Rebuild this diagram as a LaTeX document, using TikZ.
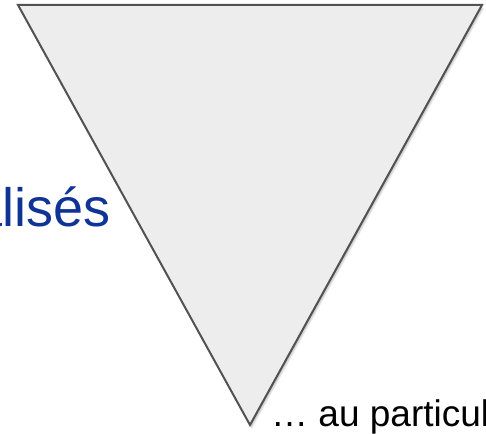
\documentclass[tikz,border=0pt]{standalone}
\usepackage{fontspec}
\setmainfont{Liberation Sans}
\usetikzlibrary{calc}
\colorlet{funnelfill}{black!7}
\colorlet{funneldraw}{black!68}
\definecolor{titleblue}{RGB}{16,52,150}
\tikzstyle{funnel}=[draw=funneldraw,line width=2,fill=funnelfill,line join=miter]
\tikzstyle{funnelshadow}=[fill=black,opacity=0.06]

\begin{document}
\begin{tikzpicture}[x=1pt,y=-1pt]
  \def\W{486} % picture width
  \def\H{433} % picture height
  \useasboundingbox (0,0) rectangle (\W,\H);
  \clip (0,0) rectangle (\W,\H);

  % corners of the funnel
  \coordinate (tl) at (18,5);
  \coordinate (tr) at (482,5);
  \coordinate (tip) at (250,425);

  % soft shadow below the funnel
  \foreach \s in {1,...,5} {
    \fill[funnelshadow] ($(tl)+(\s*0.4,\s*0.8)$) -- ($(tr)+(\s*0.4,\s*0.8)$)
      -- ($(tip)+(\s*0.4,\s*0.8)$) -- cycle;
  }
  \draw[funnel] (tl) -- (tr) -- (tip) -- cycle;

  % labels
  \node[anchor=base east,inner sep=0,text=titleblue,
    font=\fontsize{54}{60}\selectfont] (side) at (111,226) {alisés};
  \node[anchor=base west,inner sep=0,
    font=\fontsize{37}{40}\selectfont] (bottom) at (271,426) {… au particul};
\end{tikzpicture}
\end{document}
